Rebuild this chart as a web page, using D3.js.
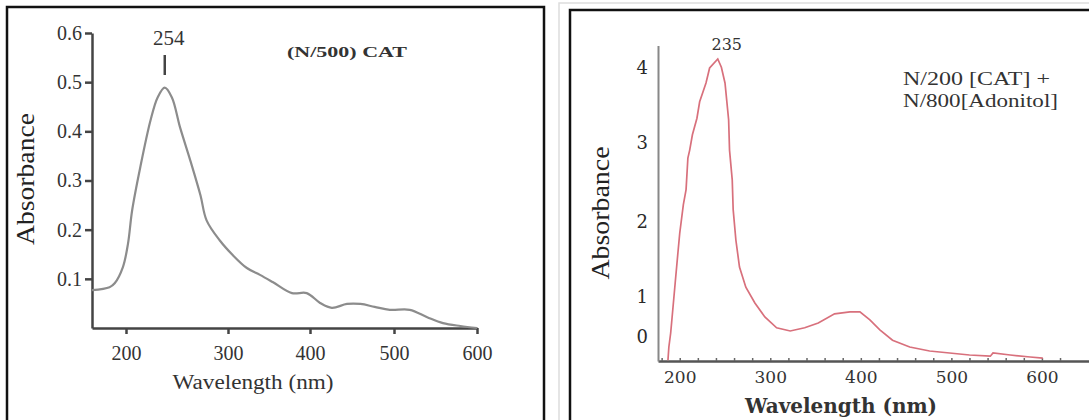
<!DOCTYPE html>
<meta charset="utf-8">
<style>
  body { margin: 0; background: #fff; }
  svg { display: block; }
  .serif { font-family: "Liberation Serif", "Times New Roman", "DejaVu Serif", serif; }
  .axisL path, .axisL line { stroke: #444; stroke-width: 2.5px; fill: none; }
  .axisL text { font-family: "Liberation Serif", "DejaVu Serif", serif; font-size: 20px; fill: #333; }
  .axisR path { stroke: #555; stroke-width: 2.5px; fill: none; }
  .axisR line { stroke: #666; stroke-width: 1.5px; }
  .axisR text { font-family: "DejaVu Serif", serif; font-size: 16px; fill: #333; }
</style>
<body>
<script src="https://cdnjs.cloudflare.com/ajax/libs/d3/7.8.5/d3.min.js"></script>
<script>

// left spectrum: (N/500) CAT
var wlL = [167,184,189,197,202,206,214,224,231,238,245,253,263,273,279,292,306,323,339,355,
           378,396,412,426,444,460,477,495,519,540,559,580,600];
var absL = [0.077,0.083,0.091,0.124,0.172,0.239,0.327,0.422,0.469,0.489,0.469,0.408,0.341,0.270,0.219,0.178,0.148,0.122,0.108,0.093,
            0.071,0.071,0.051,0.041,0.049,0.049,0.043,0.037,0.037,0.022,0.010,0.004,0.0];
var xTicksL = [200,300,400,500,600];
var yTicksL = [0.1,0.2,0.3,0.4,0.5,0.6];
var peakTextL = "254";
var titleL = "(N/500) CAT";

// right spectrum: N/200 CAT + N/800 Adonitol
var wlR = [187,188,190,192,195,198,200,204,207,209,211,214,219,222,229,233,242,246,250,254,
           255,258,259,262,266,273,283,294,307,322,338,353,371,388,399,410,421,435,454,476,
           498,520,543,546,565,587,601];
var absR = [-0.58,-0.25,0.10,0.60,1.19,1.59,1.85,2.22,2.41,2.81,2.91,3.11,3.33,3.55,3.80,4.00,4.12,4.01,3.80,3.31,
            2.91,2.53,2.16,1.76,1.40,1.13,0.85,0.50,0.23,0.15,0.23,0.35,0.58,0.63,0.63,0.43,0.18,-0.08,-0.25,-0.35,
            -0.40,-0.45,-0.48,-0.40,-0.45,-0.50,-0.53];
var xTicksR = [200,300,400,500,600];
var yTicksR = [0,1,2,3,4];
var peakTextR = "235";
var legendR = ["N/200 [CAT] +", "N/800[Adonitol]"];

var svg = d3.select("body").append("svg")
    .attr("width", 1089)
    .attr("height", 420);

// frames
svg.append("path")
    .attr("d", "M7,420V7H544V420")
    .style("fill", "none").style("stroke", "#111").style("stroke-width", 2.5);
svg.append("path")
    .attr("d", "M559,420V3H1089")
    .style("fill", "none").style("stroke", "#ddd").style("stroke-width", 1.5);
svg.append("path")
    .attr("d", "M570,420V10H1089")
    .style("fill", "none").style("stroke", "#111").style("stroke-width", 2.5);

// ---------- left panel ----------
// the scanned axis is not evenly spaced, so the scale follows the printed ticks
var xL = d3.scaleLinear()
    .domain([167,200,300,400,500,600])
    .range([92,126,228,310,394,477]);
var yL = d3.scaleLinear()
    .domain([0,0.6])
    .range([328,33]);

var gL = svg.append("g");

gL.append("g")
    .attr("class", "axisL")
    .attr("transform", "translate(0," + yL(0) + ")")
    .call(d3.axisBottom(xL).tickValues(xTicksL).tickSize(6).tickSizeOuter(0).tickPadding(12));

gL.append("g")
    .attr("class", "axisL")
    .attr("transform", "translate(" + xL(167) + ",0)")
    .call(d3.axisLeft(yL).tickValues(yTicksL).tickSize(7).tickSizeOuter(0).tickPadding(3)
        .tickFormat(d3.format(".1f")));

var lineL = d3.line()
    .x(function (d) { return xL(d[0]); })
    .y(function (d) { return yL(d[1]); })
    .curve(d3.curveCatmullRom);

gL.append("path")
    .datum(d3.zip(wlL, absL))
    .attr("d", lineL)
    .style("fill", "none")
    .style("stroke", "#8c8c8c")
    .style("stroke-width", 2.2);

var peakL = d3.greatest(d3.zip(wlL, absL), function (d) { return d[1]; });
gL.append("line")
    .attr("x1", xL(peakL[0])).attr("x2", xL(peakL[0]))
    .attr("y1", 55).attr("y2", 75)
    .style("stroke", "#444").style("stroke-width", 2.5);
gL.append("text")
    .attr("class", "serif")
    .attr("x", xL(peakL[0]) + 4).attr("y", 45)
    .attr("text-anchor", "middle")
    .style("font-size", "21px").style("fill", "#333")
    .text(peakTextL);

gL.append("text")
    .attr("class", "serif")
    .attr("x", 287).attr("y", 57)
    .attr("textLength", 120).attr("lengthAdjust", "spacingAndGlyphs")
    .style("font-size", "15px").style("font-weight", "bold").style("fill", "#333")
    .text(titleL);

gL.append("text")
    .attr("class", "serif")
    .attr("transform", "translate(34,179) rotate(-90)")
    .attr("text-anchor", "middle")
    .attr("textLength", 132).attr("lengthAdjust", "spacingAndGlyphs")
    .style("font-size", "25px").style("fill", "#222")
    .text("Absorbance");

gL.append("text")
    .attr("class", "serif")
    .attr("x", 253).attr("y", 389)
    .attr("text-anchor", "middle")
    .attr("textLength", 161).attr("lengthAdjust", "spacingAndGlyphs")
    .style("font-size", "20px").style("fill", "#333")
    .text("Wavelength (nm)");

// ---------- right panel ----------
var xR = d3.scaleLinear()
    .domain([176,652])
    .range([658,1089]);
// printed "0" sits above the baseline, so the scale is pinned to each label
var yR = d3.scaleLinear()
    .domain([-0.6,0,1,2,3,4,4.3])
    .range([361,337,297,222,143,68,45.5]);

var gR = svg.append("g");

gR.append("g")
    .attr("class", "axisR")
    .attr("transform", "translate(0," + yR(-0.6) + ")")
    .call(d3.axisTop(xR).tickValues(d3.range(180, 640, 20)).tickSize(3).tickSizeOuter(0).tickFormat(""));

gR.append("g")
    .attr("class", "axisR")
    .attr("transform", "translate(0," + yR(-0.6) + ")")
    .call(d3.axisBottom(xR).tickValues(xTicksR).tickSize(0).tickPadding(9))
    .call(function (g) { g.select(".domain").remove(); })
    .selectAll("text").attr("dy", "0.75em").style("font-size", "17px");

gR.append("g")
    .attr("class", "axisR")
    .attr("transform", "translate(" + xR(176) + ",0)")
    .call(d3.axisLeft(yR).tickValues(yTicksR).tickSize(0).tickPadding(10).tickFormat(d3.format("d")))
    .call(function (g) { g.select(".domain").style("stroke", "#888").style("stroke-width", 2); })
    .selectAll("text").style("font-size", "18px").style("fill", "#2a2a2a");

var lineR = d3.line()
    .x(function (d) { return xR(d[0]); })
    .y(function (d) { return yR(d[1]); });

gR.append("path")
    .datum(d3.zip(wlR, absR))
    .attr("d", lineR)
    .style("fill", "none")
    .style("stroke", "#d8707c")
    .style("stroke-width", 1.7);

var peakR = d3.greatest(d3.zip(wlR, absR), function (d) { return d[1]; });
gR.append("text")
    .attr("x", xR(peakR[0]) + 9).attr("y", 50)
    .attr("text-anchor", "middle")
    .style("font-family", "DejaVu Serif, serif")
    .style("font-size", "16px").style("fill", "#333")
    .text(peakTextR);

gR.selectAll(".legend")
    .data(legendR)
    .enter().append("text")
    .attr("class", "serif legend")
    .attr("x", 903)
    .attr("y", function (d, i) { return 85 + i * 22; })
    .attr("textLength", function (d, i) { return [147, 155][i]; })
    .attr("lengthAdjust", "spacingAndGlyphs")
    .style("font-size", "18px").style("fill", "#333")
    .text(function (d) { return d; });

gR.append("text")
    .attr("class", "serif")
    .attr("transform", "translate(609,213) rotate(-90)")
    .attr("text-anchor", "middle")
    .attr("textLength", 133).attr("lengthAdjust", "spacingAndGlyphs")
    .style("font-size", "25px").style("fill", "#222")
    .text("Absorbance");

gR.append("text")
    .attr("x", 841).attr("y", 413)
    .attr("text-anchor", "middle")
    .attr("textLength", 192).attr("lengthAdjust", "spacingAndGlyphs")
    .style("font-family", "DejaVu Serif, serif")
    .style("font-size", "20px").style("font-weight", "bold").style("fill", "#333")
    .text("Wavelength (nm)");

</script>
</body>
